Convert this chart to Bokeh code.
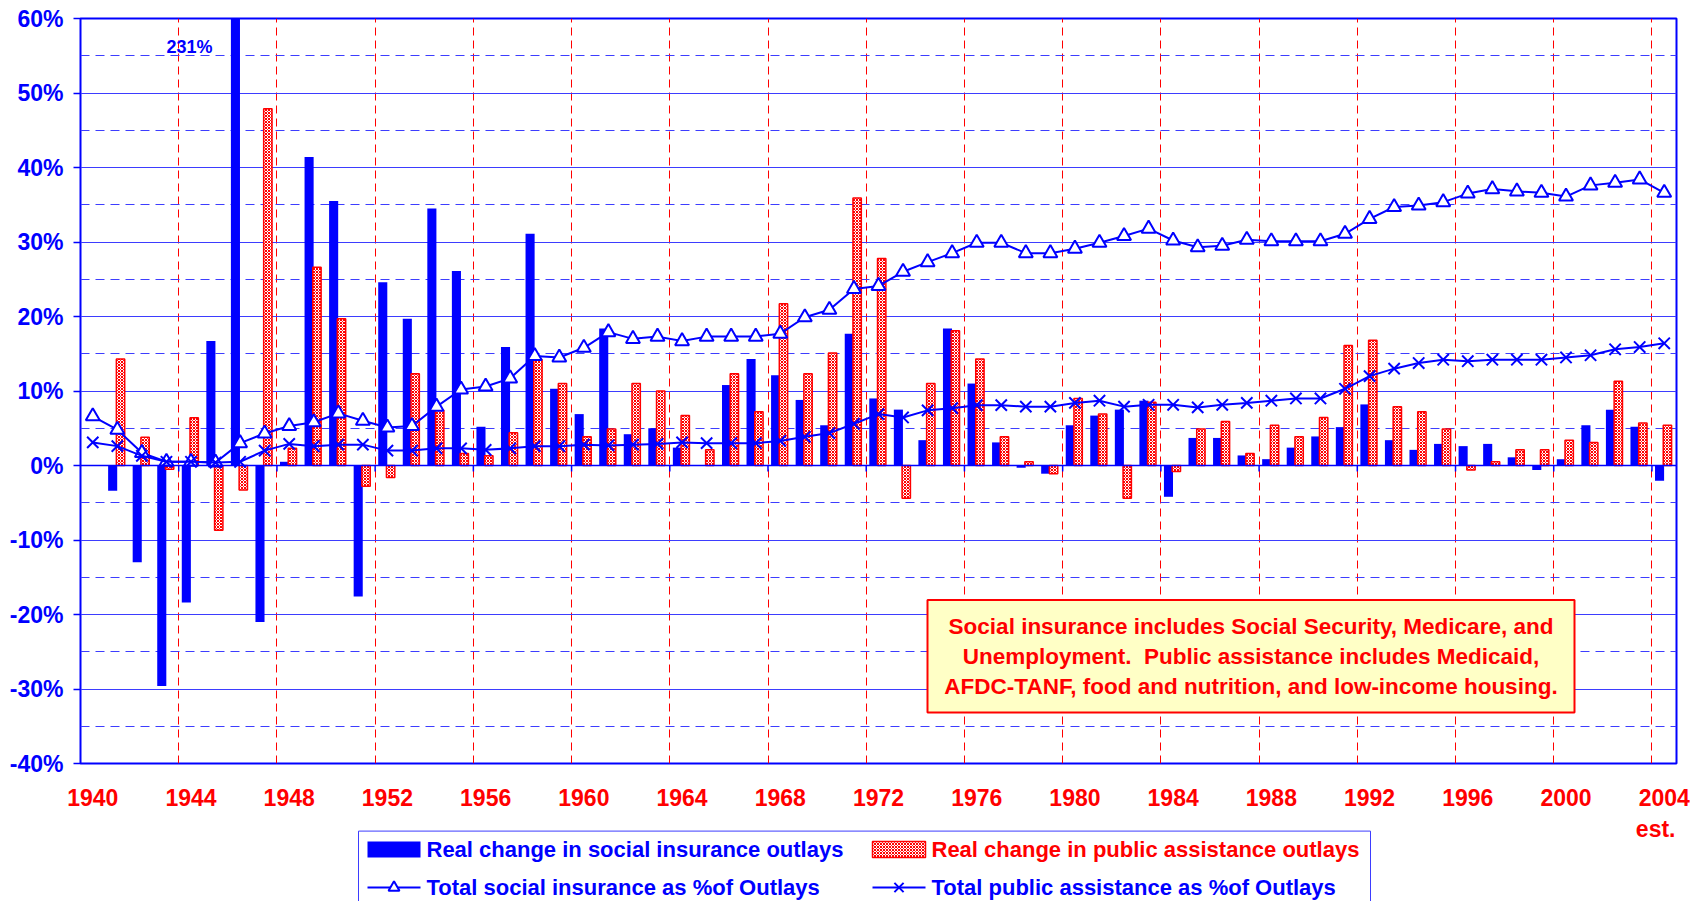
import math
from bokeh.plotting import figure
from bokeh.layouts import column
from bokeh.models import (Range1d, FixedTicker, BoxAnnotation, Label, Span)
from bokeh.embed import file_html
from bokeh.resources import INLINE

NaN = float("nan")

# ---------------- data ----------------
years = list(range(1940, 2005))

social_change = [NaN, -3.4, -13.0, -29.6, -18.4, 16.7, 231.0, -21.0, 0.5, 41.4,
                 35.5, -17.6, 24.6, 19.7, 34.5, 26.1, 5.2, 15.9, 31.1, 10.3,
                 6.9, 18.4, 4.2, 5.0, 2.4, 0.0, 10.8, 14.3, 12.1, 8.8,
                 5.4, 17.7, 9.0, 7.5, 3.4, 18.4, 11.0, 3.1, -0.3, -1.1,
                 5.4, 6.7, 7.5, 8.7, -4.2, 3.7, 3.7, 1.35, 0.85, 2.4,
                 3.9, 5.15, 8.2, 3.4, 2.1, 2.9, 2.6, 2.9, 1.1, -0.6,
                 0.85, 5.4, 7.5, 5.2, -2.05]

public_change = [NaN, 14.3, 3.8, -0.5, 6.4, -8.7, -3.3, 47.9, 2.3, 26.6,
                 19.7, -2.8, -1.6, 12.3, 7.4, 1.6, 1.3, 4.4, 14.2, 11.0,
                 3.85, 4.9, 11.0, 10.0, 6.7, 2.1, 12.3, 7.2, 21.7, 12.3,
                 15.1, 35.9, 27.8, -4.4, 11.0, 18.1, 14.3, 3.85, 0.5, -1.1,
                 9.0, 6.9, -4.4, 8.5, -0.8, 4.9, 5.9, 1.6, 5.4, 3.85,
                 6.45, 16.1, 16.8, 7.9, 7.2, 4.9, -0.6, 0.5, 2.1, 2.1,
                 3.4, 3.1, 11.3, 5.7, 5.4]

social_share = [6.6, 4.8, 1.7, 0.5, 0.5, 0.4, 3.0, 4.3, 5.3, 5.8,
                7.0, 6.0, 5.1, 5.3, 7.9, 10.2, 10.6, 11.7, 14.7, 14.5,
                15.8, 17.9, 17.0, 17.3, 16.7, 17.3, 17.3, 17.3, 17.7, 19.9,
                20.9, 23.7, 24.1, 26.0, 27.3, 28.5, 29.9, 29.9, 28.5, 28.5,
                29.1, 29.9, 30.8, 31.8, 30.2, 29.3, 29.5, 30.3, 30.1, 30.1,
                30.1, 31.1, 33.1, 34.7, 34.9, 35.35, 36.5, 37.1, 36.8, 36.6,
                36.1, 37.6, 37.95, 38.4, 36.6]

public_share = [3.1, 2.6, 1.3, 0.5, 0.5, 0.4, 0.5, 2.0, 2.9, 2.6,
                2.8, 2.8, 2.0, 2.0, 2.3, 2.3, 2.1, 2.3, 2.6, 2.6,
                2.8, 2.7, 2.8, 2.9, 3.1, 3.0, 3.0, 3.0, 3.3, 3.85,
                4.35, 5.6, 6.9, 6.45, 7.4, 7.7, 8.1, 8.1, 7.9, 7.9,
                8.4, 8.7, 7.9, 8.15, 8.15, 7.8, 8.15, 8.4, 8.7, 9.0,
                9.0, 10.3, 12.0, 13.0, 13.75, 14.2, 14.0, 14.2, 14.2, 14.2,
                14.5, 14.8, 15.6, 15.9, 16.4]

x_tick_years = list(range(1940, 2005, 4))
y_ticks = list(range(-40, 61, 10))
y_minor_ticks = list(range(-35, 56, 10))

series_labels = ["Real change in social insurance outlays",
                 "Real change in public assistance outlays",
                 "Total social insurance as %of Outlays",
                 "Total public assistance as %of Outlays"]
note_lines = ["Social insurance includes Social Security, Medicare, and",
              "Unemployment.\u00a0 Public assistance includes Medicaid,",
              "AFDC-TANF, food and nutrition, and low-income housing."]
peak_label = "231%"
est_label = "est."

# ---------------- layout / style ----------------
BLUE = "#0000ff"
RED = "#ff0000"
FONT = "Liberation Sans"

TOTAL_W = 1692
FRAME_W, FRAME_H = 1596, 745
B_L, B_T, B_B = 80, 18, 52
B_R = TOTAL_W - B_L - FRAME_W
MAIN_H = B_T + FRAME_H + B_B
LEG_H = 901 - MAIN_H
X_MIN, X_MAX = -0.5, len(years) - 0.5
Y_MIN, Y_MAX = -40, 60
FL, FT = B_L, B_T   # frame left/top in page pixels


def sx(px):
    return X_MIN + (px - FL) * (X_MAX - X_MIN) / FRAME_W


def sy(py):
    return Y_MAX - (py - FT) * (Y_MAX - Y_MIN) / FRAME_H


idx = list(range(len(years)))

p = figure(frame_width=FRAME_W, frame_height=FRAME_H,
           x_range=Range1d(X_MIN, X_MAX), y_range=Range1d(Y_MIN, Y_MAX),
           output_backend="svg", toolbar_location=None,
           min_border_left=B_L, min_border_right=B_R,
           min_border_top=B_T, min_border_bottom=B_B)
p.background_fill_color = "white"
p.border_fill_color = "white"
p.outline_line_color = BLUE
p.outline_line_width = 2

# x axis
p.xaxis.ticker = FixedTicker(ticks=[years.index(y) for y in x_tick_years])
p.xaxis.major_label_overrides = {years.index(y): str(y) for y in x_tick_years}
p.xaxis.axis_line_color = None
p.xaxis.major_tick_line_color = None
p.xaxis.minor_tick_line_color = None
p.xaxis.major_label_text_color = RED
p.xaxis.major_label_text_font = FONT
p.xaxis.major_label_text_font_style = "bold"
p.xaxis.major_label_text_font_size = "23px"
p.xaxis.major_label_standoff = 19

# y axis
p.yaxis.ticker = FixedTicker(ticks=y_ticks, minor_ticks=y_minor_ticks)
p.yaxis.major_label_overrides = {v: f"{v}%" for v in y_ticks}
p.yaxis.axis_line_color = None
p.yaxis.major_tick_line_color = BLUE
p.yaxis.major_tick_line_width = 1.5
p.yaxis.major_tick_out = 7
p.yaxis.major_tick_in = 0
p.yaxis.minor_tick_line_color = None
p.yaxis.major_label_text_color = BLUE
p.yaxis.major_label_text_font = FONT
p.yaxis.major_label_text_font_style = "bold"
p.yaxis.major_label_text_font_size = "23px"
p.yaxis.major_label_standoff = 10

# grids
boundaries = [i + 3.5 for i in range(0, len(years) - 4, 4)]
p.xgrid.ticker = FixedTicker(ticks=boundaries)
p.xgrid.grid_line_color = RED
p.xgrid.grid_line_dash = "8 5"
p.xgrid.grid_line_width = 1

p.ygrid.ticker = FixedTicker(ticks=y_ticks, minor_ticks=y_minor_ticks)
p.ygrid.grid_line_color = "#3d3dff"
p.ygrid.grid_line_width = 1
p.ygrid.minor_grid_line_color = "#3d3dff"
p.ygrid.minor_grid_line_dash = "9 6"
p.ygrid.minor_grid_line_width = 1

HATCH = dict(fill_color="white", hatch_pattern="diagonal_cross", hatch_color=RED,
             hatch_scale=3, hatch_weight=1, line_color=RED, line_width=1.5)

# bars
blue_bars = p.vbar(x=[i - 0.19 for i in idx], top=social_change, bottom=0,
                   width=0.37, fill_color=BLUE, line_color=None)
red_bars = p.vbar(x=[i + 0.13 for i in idx], top=public_change, bottom=0,
                  width=0.34, **HATCH)

# zero axis line with category ticks
p.add_layout(Span(location=0, dimension="width", line_color=BLUE, line_width=1.5))
p.segment(x0=boundaries, y0=[0] * len(boundaries), x1=boundaries,
          y1=[-0.8] * len(boundaries), line_color=BLUE, line_width=1.5)

TRI = dict(marker="triangle", size=14, fill_color="white", line_color=BLUE, line_width=2)
XM = dict(marker="x", size=16, line_color=BLUE, line_width=2)

# lines
p.line(idx, social_share, line_color=BLUE, line_width=2)
p.scatter(idx, social_share, **TRI)
p.line(idx, public_share, line_color=BLUE, line_width=2)
p.scatter(idx, public_share, **XM)

# peak label
p.add_layout(Label(x=sx(189), y=sy(46.7), text=peak_label, text_color=BLUE,
                   text_font=FONT, text_font_style="bold", text_font_size="18px",
                   text_align="center", text_baseline="middle"))

# note box
p.add_layout(BoxAnnotation(left=sx(927), right=sx(1574), top=sy(599.5), bottom=sy(712),
                           fill_color="#ffffc6", fill_alpha=1.0,
                           line_color=RED, line_alpha=1.0, line_width=2))
for k, line in enumerate(note_lines):
    p.add_layout(Label(x=sx(1250.5), y=sy(625.6 + 30.2 * k), text=line,
                       text_color=RED, text_font=FONT, text_font_style="bold",
                       text_font_size="22.5px", text_align="center",
                       text_baseline="middle"))

# ---------------- legend strip (second figure, page-pixel coordinates) ----------------
# the column layout aligns this figure's frame with the main frame horizontally
q = figure(width=TOTAL_W, height=LEG_H, x_range=Range1d(FL, FL + FRAME_W),
           y_range=Range1d(MAIN_H + LEG_H, MAIN_H),
           x_axis_type=None, y_axis_type=None, output_backend="svg",
           toolbar_location=None, min_border_left=B_L, min_border_right=B_R,
           min_border_top=0, min_border_bottom=0)
q.grid.visible = False
q.outline_line_color = None
q.background_fill_color = "white"
q.border_fill_color = "white"

# "est." under 2004 (kept inside the strip's frame so it is not clipped)
q.add_layout(Label(x=FL + FRAME_W - 1, y=828, text=est_label, text_color=RED,
                   text_font=FONT, text_font_style="bold", text_font_size="23px",
                   text_align="right", text_baseline="middle"))

# legend frame
q.quad(left=[358], right=[1370], top=[830.6], bottom=[MAIN_H + LEG_H + 10],
       fill_color="white", line_color="#3d3dff", line_width=1)

ROW1, ROW2 = 849, 887
COL1, COL2 = 367, 872
SW_W, SW_H = 53, 16
q.quad(left=[COL1], right=[COL1 + SW_W], top=[ROW1 - SW_H / 2], bottom=[ROW1 + SW_H / 2],
       fill_color=BLUE, line_color=None)
q.quad(left=[COL2], right=[COL2 + SW_W], top=[ROW1 - SW_H / 2], bottom=[ROW1 + SW_H / 2],
       **HATCH)
q.segment(x0=[COL1, COL2], y0=[ROW2, ROW2], x1=[COL1 + SW_W, COL2 + SW_W],
          y1=[ROW2, ROW2], line_color=BLUE, line_width=2)
q.scatter([COL1 + SW_W / 2], [ROW2], **dict(TRI, size=11))
q.scatter([COL2 + SW_W / 2], [ROW2], **dict(XM, size=13))

for lbl, col, row, color in [(series_labels[0], COL1, ROW1, BLUE),
                             (series_labels[1], COL2, ROW1, RED),
                             (series_labels[2], COL1, ROW2, BLUE),
                             (series_labels[3], COL2, ROW2, BLUE)]:
    q.add_layout(Label(x=col + SW_W + 6, y=row, text=lbl, text_color=color,
                       text_font=FONT, text_font_style="bold",
                       text_font_size="22px", text_align="left",
                       text_baseline="middle"))

layout = column(p, q, spacing=0)
open("out.html", "w").write(file_html(layout, INLINE, title="Social insurance and public assistance outlays"))
